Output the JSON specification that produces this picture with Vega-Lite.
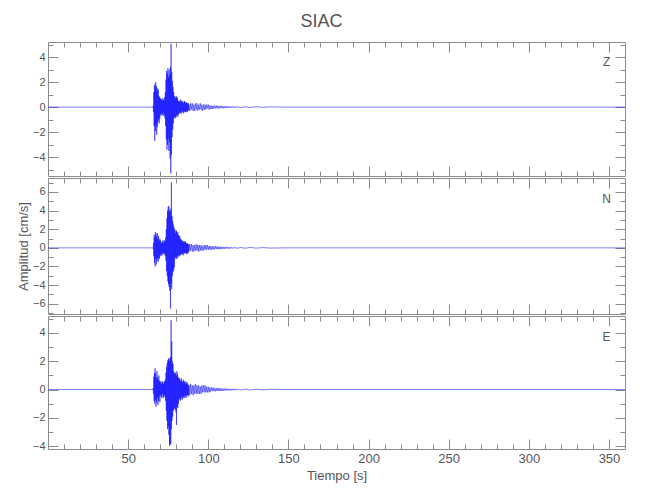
{
"$schema": "https://vega.github.io/schema/vega-lite/v6.json",
"padding": {"left": 16, "top": 13, "right": 5, "bottom": 5},
"title": {"text": "SIAC", "fontSize": 18, "font": "Liberation Sans", "fontWeight": "normal", "color": "#555555", "offset": 10, "anchor": "middle"},
"datasets": {"s": [
{"t":0,"Z":0,"N":0,"E":0},{"t":65.4,"Z":0,"N":0,"E":0},
{"t":65.6,"Z":0.1,"N":-0.1,"E":0.1},{"t":65.8,"Z":-0.4,"N":0.5,"E":-0.3},{"t":66.0,"Z":1.2,"N":-0.9,"E":0.9},{"t":66.2,"Z":-1.5,"N":1.4,"E":-0.8},
{"t":66.4,"Z":1.8,"N":-1.6,"E":1.2},{"t":66.6,"Z":-2.7,"N":1.1,"E":-1.0},{"t":66.8,"Z":1.6,"N":-2.0,"E":1.5},{"t":67.0,"Z":-1.9,"N":1.7,"E":-0.7},
{"t":67.2,"Z":2.0,"N":-1.2,"E":1.1},{"t":67.4,"Z":-1.4,"N":1.5,"E":-1.2},{"t":67.6,"Z":1.7,"N":-1.8,"E":0.8},{"t":67.8,"Z":-2.2,"N":1.2,"E":-0.9},
{"t":68.0,"Z":1.3,"N":-1.4,"E":1.3},{"t":68.2,"Z":-1.6,"N":1.6,"E":-0.6},{"t":68.4,"Z":1.5,"N":-1.1,"E":0.9},{"t":68.6,"Z":-1.2,"N":0.9,"E":-1.1},
{"t":68.8,"Z":1.4,"N":-1.5,"E":0.7},{"t":69.0,"Z":-1.0,"N":1.3,"E":-0.8},{"t":69.2,"Z":0.9,"N":-1.0,"E":1.0},{"t":69.4,"Z":-1.3,"N":0.8,"E":-0.5},
{"t":69.6,"Z":0.8,"N":-1.2,"E":0.6},{"t":69.8,"Z":-0.9,"N":1.0,"E":-0.9},{"t":70.0,"Z":0.7,"N":-0.7,"E":0.5},{"t":70.2,"Z":-0.6,"N":0.8,"E":-0.4},
{"t":70.4,"Z":0.7,"N":-0.9,"E":0.6},{"t":70.6,"Z":-0.5,"N":0.6,"E":-0.5},{"t":70.8,"Z":0.6,"N":-0.7,"E":0.4},{"t":71.0,"Z":-0.7,"N":0.5,"E":-0.6},
{"t":71.2,"Z":0.5,"N":-0.8,"E":0.5},{"t":71.4,"Z":-0.6,"N":0.7,"E":-0.3},{"t":71.6,"Z":0.7,"N":-0.5,"E":0.6},{"t":71.8,"Z":-0.4,"N":0.8,"E":-0.5},
{"t":72.0,"Z":0.6,"N":-0.6,"E":0.4},{"t":72.2,"Z":-0.7,"N":0.5,"E":-0.6},{"t":72.4,"Z":0.5,"N":-0.7,"E":0.5},{"t":72.6,"Z":-0.6,"N":0.8,"E":-0.4},
{"t":72.8,"Z":0.8,"N":-0.6,"E":0.6},{"t":73.0,"Z":-0.9,"N":0.7,"E":-0.5},{"t":73.2,"Z":1.2,"N":-0.9,"E":0.7},{"t":73.4,"Z":-1.5,"N":1.1,"E":-0.8},
{"t":73.6,"Z":2.2,"N":-1.4,"E":1.2},{"t":73.8,"Z":-2.6,"N":2.0,"E":-1.5},{"t":74.0,"Z":2.9,"N":-2.5,"E":1.6},{"t":74.2,"Z":-3.4,"N":3.2,"E":-2.2},
{"t":74.4,"Z":2.7,"N":-3.0,"E":1.9},{"t":74.6,"Z":-3.0,"N":4.0,"E":-2.8},{"t":74.8,"Z":3.1,"N":-3.6,"E":2.1},{"t":75.0,"Z":-2.5,"N":4.4,"E":-2.6},
{"t":75.2,"Z":2.4,"N":-3.9,"E":2.2},{"t":75.4,"Z":-3.5,"N":4.5,"E":-3.2},{"t":75.6,"Z":3.0,"N":-4.2,"E":2.0},{"t":75.8,"Z":-2.8,"N":4.0,"E":-4.0},
{"t":76.0,"Z":2.6,"N":-4.6,"E":2.2},{"t":76.2,"Z":-4.1,"N":3.8,"E":-3.8},{"t":76.4,"Z":3.2,"N":-6.5,"E":2.3},{"t":76.6,"Z":-5.3,"N":4.2,"E":-3.9},
{"t":76.8,"Z":5.05,"N":-3.8,"E":4.9},{"t":77.0,"Z":-3.8,"N":7.0,"E":-2.8},{"t":77.2,"Z":2.8,"N":-4.4,"E":3.4},{"t":77.4,"Z":-2.4,"N":3.4,"E":-2.2},
{"t":77.6,"Z":2.1,"N":-3.0,"E":2.0},{"t":77.8,"Z":-1.8,"N":2.9,"E":-1.9},{"t":78.0,"Z":1.6,"N":-2.6,"E":1.8},{"t":78.2,"Z":-1.3,"N":2.5,"E":-1.5},
{"t":78.4,"Z":1.2,"N":-2.4,"E":1.3},{"t":78.6,"Z":-0.9,"N":2.2,"E":-1.4},{"t":78.8,"Z":0.9,"N":-2.1,"E":1.2},{"t":79.0,"Z":-0.8,"N":2.0,"E":-1.3},
{"t":79.2,"Z":0.8,"N":-1.2,"E":1.1},{"t":79.4,"Z":-0.9,"N":1.6,"E":-1.4},{"t":79.6,"Z":0.7,"N":-1.0,"E":1.2},{"t":79.8,"Z":-0.8,"N":1.9,"E":-1.6},
{"t":80.0,"Z":0.9,"N":-1.1,"E":1.0},{"t":80.2,"Z":-0.7,"N":1.8,"E":-2.5},{"t":80.4,"Z":0.8,"N":-1.2,"E":1.3},{"t":80.6,"Z":-0.6,"N":1.5,"E":-1.2},
{"t":80.8,"Z":0.7,"N":-0.9,"E":1.1},{"t":81.0,"Z":-0.8,"N":1.7,"E":-1.3},{"t":81.2,"Z":0.5,"N":-1.0,"E":0.9},{"t":81.4,"Z":-0.6,"N":1.4,"E":-1.0},
{"t":81.6,"Z":0.5,"N":-0.8,"E":0.8},{"t":81.8,"Z":-0.4,"N":1.2,"E":-0.7},{"t":82.0,"Z":0.5,"N":-0.9,"E":0.8},{"t":82.2,"Z":-0.5,"N":1.3,"E":-0.6},
{"t":82.4,"Z":0.4,"N":-0.7,"E":0.7},{"t":82.6,"Z":-0.5,"N":1.0,"E":-0.8},{"t":82.8,"Z":0.6,"N":-0.8,"E":0.6},{"t":83.0,"Z":-0.4,"N":0.9,"E":-0.7},
{"t":83.2,"Z":0.5,"N":-0.7,"E":0.8},{"t":83.4,"Z":-0.5,"N":0.8,"E":-0.5},{"t":83.6,"Z":0.4,"N":-0.6,"E":0.6},{"t":83.8,"Z":-0.3,"N":0.8,"E":-0.7},
{"t":84.0,"Z":0.5,"N":-0.7,"E":0.5},{"t":84.2,"Z":-0.4,"N":0.6,"E":-0.6},{"t":84.4,"Z":0.3,"N":-0.8,"E":0.7},{"t":84.6,"Z":-0.5,"N":0.7,"E":-0.5},
{"t":84.8,"Z":0.4,"N":-0.5,"E":0.6},{"t":85.0,"Z":-0.4,"N":0.7,"E":-0.6},{"t":85.2,"Z":0.5,"N":-0.6,"E":0.5},{"t":85.4,"Z":-0.3,"N":0.6,"E":-0.4},
{"t":85.6,"Z":0.4,"N":-0.5,"E":0.6},{"t":85.8,"Z":-0.4,"N":0.7,"E":-0.5},{"t":86.0,"Z":0.3,"N":-0.6,"E":0.4},{"t":86.2,"Z":-0.4,"N":0.5,"E":-0.6},
{"t":86.4,"Z":0.4,"N":-0.6,"E":0.5},{"t":86.6,"Z":-0.3,"N":0.5,"E":-0.4},{"t":86.8,"Z":0.3,"N":-0.7,"E":0.5},{"t":87.0,"Z":-0.4,"N":0.5,"E":-0.4},
{"t":87.2,"Z":0.3,"N":-0.5,"E":0.4},{"t":87.4,"Z":-0.2,"N":0.4,"E":-0.5},{"t":87.6,"Z":0.3,"N":-0.5,"E":0.3},{"t":87.8,"Z":-0.3,"N":0.4,"E":-0.4},
{"t":88.0,"Z":0.2,"N":-0.4,"E":0.3},
{"t":88.5,"Z":-0.3,"N":0.4,"E":-0.4},{"t":89.0,"Z":0.3,"N":-0.3,"E":0.4},{"t":89.5,"Z":-0.2,"N":0.4,"E":-0.3},{"t":90.0,"Z":0.3,"N":-0.4,"E":0.3},
{"t":90.5,"Z":-0.3,"N":0.3,"E":-0.4},{"t":91.0,"Z":0.2,"N":-0.4,"E":0.3},{"t":91.5,"Z":-0.3,"N":0.3,"E":-0.3},{"t":92.0,"Z":0.3,"N":-0.3,"E":0.4},
{"t":92.5,"Z":-0.2,"N":0.4,"E":-0.3},{"t":93.0,"Z":0.3,"N":-0.3,"E":0.3},{"t":93.5,"Z":-0.3,"N":0.3,"E":-0.3},{"t":94.0,"Z":0.2,"N":-0.4,"E":0.3},
{"t":94.5,"Z":-0.2,"N":0.3,"E":-0.3},{"t":95.0,"Z":0.3,"N":-0.3,"E":0.2},{"t":95.5,"Z":-0.2,"N":0.3,"E":-0.3},{"t":96.0,"Z":0.2,"N":-0.3,"E":0.3},
{"t":96.5,"Z":-0.3,"N":0.2,"E":-0.2},{"t":97.0,"Z":0.2,"N":-0.3,"E":0.3},{"t":97.5,"Z":-0.2,"N":0.3,"E":-0.2},{"t":98.0,"Z":0.2,"N":-0.2,"E":0.3},
{"t":98.5,"Z":-0.2,"N":0.3,"E":-0.2},{"t":99.0,"Z":0.2,"N":-0.2,"E":0.2},{"t":99.5,"Z":-0.1,"N":0.3,"E":-0.2},{"t":100.0,"Z":0.2,"N":-0.2,"E":0.2},
{"t":100.5,"Z":-0.2,"N":0.2,"E":-0.2},{"t":101.0,"Z":0.15,"N":-0.2,"E":0.15},{"t":101.5,"Z":-0.15,"N":0.2,"E":-0.15},{"t":102.0,"Z":0.1,"N":-0.2,"E":0.15},
{"t":102.5,"Z":-0.15,"N":0.15,"E":-0.1},{"t":103.0,"Z":0.1,"N":-0.2,"E":0.15},{"t":103.5,"Z":-0.12,"N":0.15,"E":-0.12},{"t":104.0,"Z":0.12,"N":-0.15,"E":0.1},
{"t":104.5,"Z":-0.1,"N":0.18,"E":-0.12},{"t":105.0,"Z":0.12,"N":-0.12,"E":0.1},{"t":105.5,"Z":-0.1,"N":0.15,"E":-0.1},{"t":106.0,"Z":0.1,"N":-0.15,"E":0.12},
{"t":106.5,"Z":-0.12,"N":0.12,"E":-0.1},{"t":107.0,"Z":0.1,"N":-0.14,"E":0.1},{"t":107.5,"Z":-0.08,"N":0.12,"E":-0.1},{"t":108.0,"Z":0.1,"N":-0.12,"E":0.08},
{"t":108.5,"Z":-0.08,"N":0.1,"E":-0.1},{"t":109.0,"Z":0.08,"N":-0.12,"E":0.08},{"t":109.5,"Z":-0.1,"N":0.1,"E":-0.07},{"t":110.0,"Z":0.07,"N":-0.1,"E":0.08},
{"t":110.5,"Z":-0.08,"N":0.1,"E":-0.08},{"t":111.0,"Z":0.07,"N":-0.08,"E":0.07},{"t":111.5,"Z":-0.06,"N":0.1,"E":-0.06},{"t":112.0,"Z":0.07,"N":-0.08,"E":0.07},
{"t":112.5,"Z":-0.06,"N":0.08,"E":-0.06},{"t":113.0,"Z":0.06,"N":-0.08,"E":0.05},{"t":113.5,"Z":-0.06,"N":0.07,"E":-0.06},{"t":114.0,"Z":0.05,"N":-0.07,"E":0.05},
{"t":114.5,"Z":-0.05,"N":0.06,"E":-0.05},{"t":115.0,"Z":0.05,"N":-0.06,"E":0.05},{"t":115.5,"Z":-0.05,"N":0.06,"E":-0.04},{"t":116.0,"Z":0.04,"N":-0.05,"E":0.05},
{"t":116.5,"Z":-0.05,"N":0.05,"E":-0.04},{"t":117.0,"Z":0.04,"N":-0.05,"E":0.04},{"t":117.5,"Z":-0.04,"N":0.05,"E":-0.04},{"t":118.0,"Z":0.04,"N":-0.05,"E":0.04},
{"t":120,"Z":-0.04,"N":0.04,"E":-0.03},{"t":123,"Z":0.03,"N":-0.04,"E":0.03},{"t":126,"Z":-0.03,"N":0.04,"E":-0.03},{"t":130,"Z":0.03,"N":-0.03,"E":0.02},
{"t":134,"Z":-0.02,"N":0.03,"E":-0.02},{"t":138,"Z":0.02,"N":-0.02,"E":0.02},{"t":148,"Z":0,"N":0,"E":0},{"t":360,"Z":0,"N":0,"E":0}
], "one": [{"k": 1}]},
"data": {"name": "s"},
"spacing": 0,
"vconcat": [
{
 "width": 577, "height": 134,
 "layer": [
  {"mark": {"type": "line", "color": "#0000ff", "strokeWidth": 0.6, "opacity": 0.85, "clip": true},
   "encoding": {
    "x": {"field": "t", "type": "quantitative", "scale": {"domain": [0, 360], "nice": false, "zero": false}, "axis": {"orient": "bottom", "values": [50,100,150,200,250,300,350], "tickSize": -10, "labels": false, "title": null}},
    "y": {"field": "Z", "type": "quantitative", "scale": {"domain": [-5.5, 5.2], "nice": false, "zero": false}, "axis": {"orient": "left", "values": [-4,-2,0,2,4], "tickSize": -10, "labelPadding": 13, "labelFontSize": 11, "labelOverlap": false, "title": null}}
   }},
  {"mark": {"type": "line", "opacity": 0},
   "encoding": {
    "x": {"field": "t", "type": "quantitative", "axis": {"orient": "bottom", "values": [10,20,30,40,60,70,80,90,110,120,130,140,160,170,180,190,210,220,230,240,260,270,280,290,310,320,330,340], "tickSize": -5, "labels": false, "title": null}},
    "y": {"field": "Z", "type": "quantitative", "axis": {"orient": "left", "values": [-5,-3,-1,1,3,5], "tickSize": -5, "labels": false, "title": null}}
   }},
  {"mark": {"type": "line", "opacity": 0},
   "encoding": {
    "x": {"field": "t", "type": "quantitative", "axis": {"orient": "top", "values": [50,100,150,200,250,300,350], "tickSize": -10, "labels": false, "title": null}},
    "y": {"field": "Z", "type": "quantitative", "axis": {"orient": "right", "values": [-4,-2,0,2,4], "tickSize": -10, "labels": false, "title": null}}
   }},
  {"mark": {"type": "line", "opacity": 0},
   "encoding": {
    "x": {"field": "t", "type": "quantitative", "axis": {"orient": "top", "values": [10,20,30,40,60,70,80,90,110,120,130,140,160,170,180,190,210,220,230,240,260,270,280,290,310,320,330,340], "tickSize": -5, "labels": false, "title": null}},
    "y": {"field": "Z", "type": "quantitative", "axis": {"orient": "right", "values": [-5,-3,-1,1,3,5], "tickSize": -5, "labels": false, "title": null}}
   }},
  {"data": {"name": "one"},
   "mark": {"type": "text", "text": "Z", "fontSize": 12, "color": "#555555", "font": "Liberation Sans", "align": "center", "baseline": "middle"},
   "encoding": {"x": {"datum": 348.5, "type": "quantitative", "axis": null}, "y": {"datum": 3.6, "type": "quantitative", "axis": null}}}
 ],
 "resolve": {"axis": {"x": "independent", "y": "independent"}}
},
{
 "width": 577, "height": 136,
 "layer": [
  {"mark": {"type": "line", "color": "#0000ff", "strokeWidth": 0.6, "opacity": 0.85, "clip": true},
   "encoding": {
    "x": {"field": "t", "type": "quantitative", "scale": {"domain": [0, 360], "nice": false, "zero": false}, "axis": {"orient": "bottom", "values": [50,100,150,200,250,300,350], "tickSize": -10, "labels": false, "title": null}},
    "y": {"field": "N", "type": "quantitative", "scale": {"domain": [-7.1, 7.5], "nice": false, "zero": false}, "axis": {"orient": "left", "values": [-6,-4,-2,0,2,4,6], "tickSize": -10, "labelPadding": 13, "labelFontSize": 11, "labelOverlap": false, "title": "Amplitud [cm/s]", "titleFontSize": 13, "titlePadding": 2}}
   }},
  {"mark": {"type": "line", "opacity": 0},
   "encoding": {
    "x": {"field": "t", "type": "quantitative", "axis": {"orient": "bottom", "values": [10,20,30,40,60,70,80,90,110,120,130,140,160,170,180,190,210,220,230,240,260,270,280,290,310,320,330,340], "tickSize": -5, "labels": false, "title": null}},
    "y": {"field": "N", "type": "quantitative", "axis": {"orient": "left", "values": [-7,-5,-3,-1,1,3,5,7], "tickSize": -5, "labels": false, "title": null}}
   }},
  {"mark": {"type": "line", "opacity": 0},
   "encoding": {
    "x": {"field": "t", "type": "quantitative", "axis": {"orient": "top", "values": [50,100,150,200,250,300,350], "tickSize": -10, "labels": false, "title": null}},
    "y": {"field": "N", "type": "quantitative", "axis": {"orient": "right", "values": [-6,-4,-2,0,2,4,6], "tickSize": -10, "labels": false, "title": null}}
   }},
  {"mark": {"type": "line", "opacity": 0},
   "encoding": {
    "x": {"field": "t", "type": "quantitative", "axis": {"orient": "top", "values": [10,20,30,40,60,70,80,90,110,120,130,140,160,170,180,190,210,220,230,240,260,270,280,290,310,320,330,340], "tickSize": -5, "labels": false, "title": null}},
    "y": {"field": "N", "type": "quantitative", "axis": {"orient": "right", "values": [-7,-5,-3,-1,1,3,5,7], "tickSize": -5, "labels": false, "title": null}}
   }},
  {"data": {"name": "one"},
   "mark": {"type": "text", "text": "N", "fontSize": 12, "color": "#555555", "font": "Liberation Sans", "align": "center", "baseline": "middle"},
   "encoding": {"x": {"datum": 348.5, "type": "quantitative", "axis": null}, "y": {"datum": 5.2, "type": "quantitative", "axis": null}}}
 ],
 "resolve": {"axis": {"x": "independent", "y": "independent"}}
},
{
 "width": 577, "height": 133,
 "layer": [
  {"mark": {"type": "line", "color": "#0000ff", "strokeWidth": 0.6, "opacity": 0.85, "clip": true},
   "encoding": {
    "x": {"field": "t", "type": "quantitative", "scale": {"domain": [0, 360], "nice": false, "zero": false}, "axis": {"orient": "bottom", "values": [50,100,150,200,250,300,350], "tickSize": -10, "labelPadding": 13, "labelFontSize": 13, "title": "Tiempo [s]", "titleFontSize": 13, "titlePadding": 4}},
    "y": {"field": "E", "type": "quantitative", "scale": {"domain": [-4.2, 5.2], "nice": false, "zero": false}, "axis": {"orient": "left", "values": [-4,-2,0,2,4], "tickSize": -10, "labelPadding": 13, "labelFontSize": 11, "labelOverlap": false, "title": null}}
   }},
  {"mark": {"type": "line", "opacity": 0},
   "encoding": {
    "x": {"field": "t", "type": "quantitative", "axis": {"orient": "bottom", "values": [10,20,30,40,60,70,80,90,110,120,130,140,160,170,180,190,210,220,230,240,260,270,280,290,310,320,330,340], "tickSize": -5, "labels": false, "title": null}},
    "y": {"field": "E", "type": "quantitative", "axis": {"orient": "left", "values": [-3,-1,1,3,5], "tickSize": -5, "labels": false, "title": null}}
   }},
  {"mark": {"type": "line", "opacity": 0},
   "encoding": {
    "x": {"field": "t", "type": "quantitative", "axis": {"orient": "top", "values": [50,100,150,200,250,300,350], "tickSize": -10, "labels": false, "title": null}},
    "y": {"field": "E", "type": "quantitative", "axis": {"orient": "right", "values": [-4,-2,0,2,4], "tickSize": -10, "labels": false, "title": null}}
   }},
  {"mark": {"type": "line", "opacity": 0},
   "encoding": {
    "x": {"field": "t", "type": "quantitative", "axis": {"orient": "top", "values": [10,20,30,40,60,70,80,90,110,120,130,140,160,170,180,190,210,220,230,240,260,270,280,290,310,320,330,340], "tickSize": -5, "labels": false, "title": null}},
    "y": {"field": "E", "type": "quantitative", "axis": {"orient": "right", "values": [-3,-1,1,3,5], "tickSize": -5, "labels": false, "title": null}}
   }},
  {"data": {"name": "one"},
   "mark": {"type": "text", "text": "E", "fontSize": 12, "color": "#555555", "font": "Liberation Sans", "align": "center", "baseline": "middle"},
   "encoding": {"x": {"datum": 348.5, "type": "quantitative", "axis": null}, "y": {"datum": 3.7, "type": "quantitative", "axis": null}}}
 ],
 "resolve": {"axis": {"x": "independent", "y": "independent"}}
}
],
"config": {
 "view": {"stroke": "#8c8c8c", "strokeWidth": 1},
 "axis": {"domain": false, "grid": false, "tickColor": "#8c8c8c", "tickWidth": 1, "labelColor": "#555555", "titleColor": "#555555", "labelFont": "Liberation Sans", "titleFont": "Liberation Sans", "titleFontWeight": "normal"}
}
}
